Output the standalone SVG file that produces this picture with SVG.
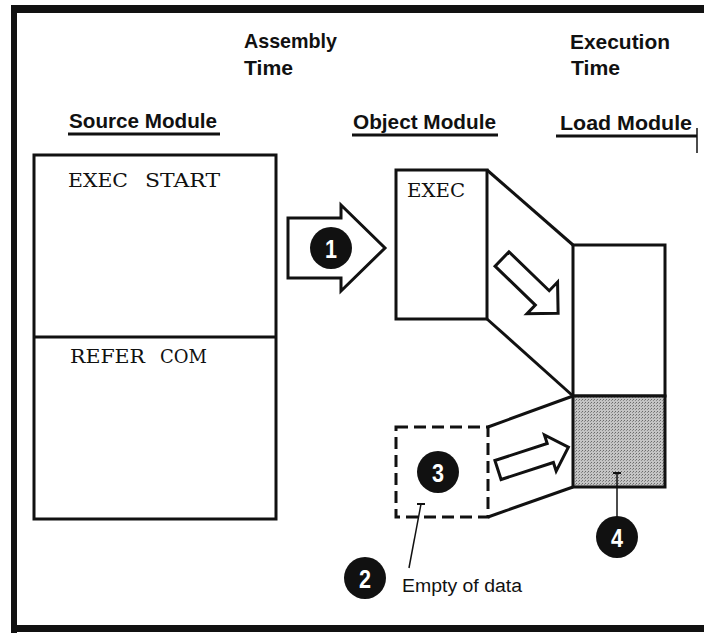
<svg xmlns="http://www.w3.org/2000/svg" width="704" height="636" viewBox="0 0 704 636">
<defs>
<pattern id="stip" width="3" height="3" patternUnits="userSpaceOnUse">
<rect width="3" height="3" fill="#c4c4c4"/>
<rect x="0" y="0" width="1" height="1" fill="#6a6a6a"/>
<rect x="2" y="1" width="1" height="1" fill="#8a8a8a"/>
</pattern>
</defs>
<style>
.h{font-family:"Liberation Sans",Arial,sans-serif;font-weight:bold;font-size:21px;fill:#111}
.m{font-family:"DejaVu Serif","Liberation Serif",serif;font-size:18px;fill:#111}
.box{fill:#fff;stroke:#111;stroke-width:3}
.ln{stroke:#111;stroke-width:3;fill:none}
.arr{fill:#fff;stroke:#111;stroke-width:3;stroke-linejoin:miter}
.num{font-family:"Liberation Sans",Arial,sans-serif;font-weight:bold;font-size:26px;fill:#fff;text-anchor:middle}
.lead{stroke:#111;stroke-width:1.5;fill:none}
</style>
<rect width="704" height="636" fill="#fff"/>
<g id="frame">
<rect x="11" y="5" width="693" height="8" fill="#111"/>
<rect x="11" y="5" width="6" height="628" fill="#111"/>
<rect x="11" y="625" width="693" height="7" fill="#111"/>
</g>
<g id="headings">
<text class="h" x="244" y="48" textLength="93" lengthAdjust="spacingAndGlyphs">Assembly</text>
<text class="h" x="244" y="75" textLength="49" lengthAdjust="spacingAndGlyphs">Time</text>
<text class="h" x="570" y="49" textLength="100" lengthAdjust="spacingAndGlyphs">Execution</text>
<text class="h" x="571" y="75" textLength="49" lengthAdjust="spacingAndGlyphs">Time</text>
<text class="h" x="69" y="128" textLength="148" lengthAdjust="spacingAndGlyphs">Source Module</text>
<line class="ln" x1="68" y1="134" x2="220" y2="134"/>
<text class="h" x="353" y="129" textLength="143" lengthAdjust="spacingAndGlyphs">Object Module</text>
<line class="ln" x1="352" y1="135" x2="498" y2="135"/>
<text class="h" x="560" y="130" textLength="132" lengthAdjust="spacingAndGlyphs">Load Module</text>
<line class="ln" x1="556" y1="136" x2="697" y2="136"/>
<line x1="697" y1="128" x2="697" y2="153" stroke="#111" stroke-width="1.5"/>
</g>
<g id="source-module">
<rect class="box" x="34" y="155" width="242" height="364"/>
<line class="ln" x1="34" y1="337" x2="276" y2="337"/>
<text class="m" y="187"><tspan x="68" textLength="60" lengthAdjust="spacingAndGlyphs">EXEC</tspan><tspan x="145" textLength="75" lengthAdjust="spacingAndGlyphs">START</tspan></text>
<text class="m" y="363"><tspan x="70" textLength="75" lengthAdjust="spacingAndGlyphs">REFER</tspan><tspan x="160" textLength="47" lengthAdjust="spacingAndGlyphs">COM</tspan></text>
</g>
<g id="object-module">
<rect class="box" x="396" y="170" width="91" height="149"/>
<text class="m" x="407" y="197" textLength="58" lengthAdjust="spacingAndGlyphs">EXEC</text>
</g>
<g id="empty-module">
<rect x="396" y="427" width="92" height="90" fill="#fff" stroke="#111" stroke-width="3" stroke-dasharray="12 6"/>
</g>
<g id="load-module">
<rect class="box" x="573" y="245" width="92" height="151"/>
<rect x="573" y="396" width="92" height="91" fill="url(#stip)" stroke="#111" stroke-width="3"/>
</g>
<g id="connectors">
<line class="ln" x1="487" y1="170" x2="573" y2="245"/>
<line class="ln" x1="487" y1="319" x2="573" y2="396"/>
<line class="ln" x1="488" y1="427" x2="573" y2="396"/>
<line class="ln" x1="488" y1="517" x2="573" y2="487"/>
<polygon class="arr" points="288,218 341,218 341,205 385,248 341,291 341,278 288,278"/>
<polygon class="arr" transform="translate(502,259) rotate(44)" points="0,-10 56,-10 56,-22 78,0 56,22 56,10 0,10"/>
<polygon class="arr" transform="translate(498,470) rotate(-18)" points="0,-10 55,-10 55,-19 74,0 55,19 55,10 0,10"/>
<line class="lead" x1="421" y1="504" x2="409" y2="568"/>
<line x1="417" y1="504" x2="425" y2="504" stroke="#111" stroke-width="2"/>
<line class="lead" x1="617" y1="473" x2="617" y2="517"/>
<line x1="613" y1="473" x2="621" y2="473" stroke="#111" stroke-width="2"/>
</g>
<g id="callout-1"><circle cx="331" cy="248" r="21" fill="#111"/><text class="num" x="331" y="258" textLength="12" lengthAdjust="spacingAndGlyphs">1</text></g>
<g id="callout-2"><circle cx="365" cy="578" r="21" fill="#111"/><text class="num" x="365" y="588" textLength="12" lengthAdjust="spacingAndGlyphs">2</text></g>
<g id="callout-3"><circle cx="438" cy="472" r="21" fill="#111"/><text class="num" x="438" y="482" textLength="12" lengthAdjust="spacingAndGlyphs">3</text></g>
<g id="callout-4"><circle cx="617" cy="537" r="21" fill="#111"/><text class="num" x="617" y="547" textLength="12" lengthAdjust="spacingAndGlyphs">4</text></g>
<text class="h" x="402" y="592" style="font-size:18px;font-weight:normal" textLength="120" lengthAdjust="spacingAndGlyphs">Empty of data</text>
</svg>
